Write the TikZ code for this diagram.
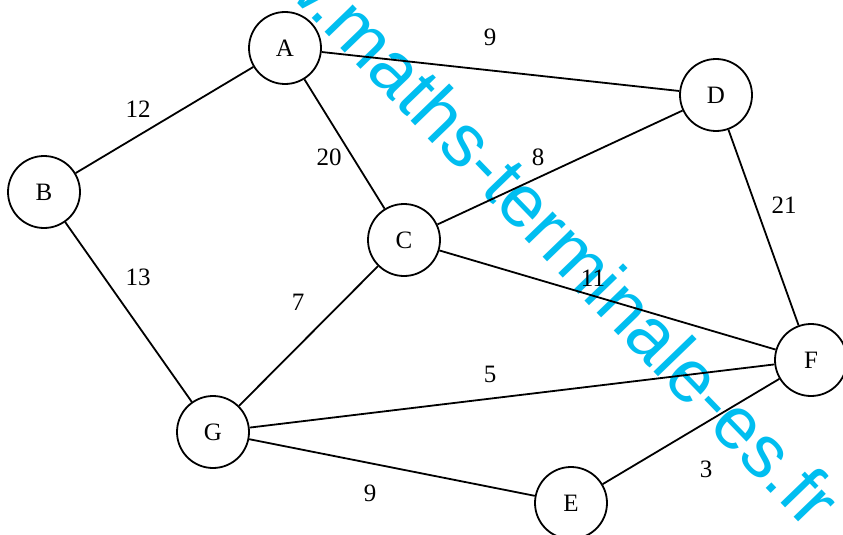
\documentclass[tikz,border=0pt]{standalone}
\usepackage{fontspec}
\setmainfont{Liberation Serif}
\newfontfamily\wmfont{Liberation Sans}
\definecolor{wmcyan}{RGB}{0,190,240}
\begin{document}
\begin{tikzpicture}[x=1pt,y=-1pt,
  vertex/.style={circle,draw=black,line width=1.8pt,fill=white,minimum size=72pt,inner sep=0pt,font=\fontsize{25}{25}\selectfont},
  edge/.style={draw=black,line width=1.8pt},
  weight/.style={inner sep=0pt,font=\fontsize{25}{25}\selectfont},
  watermark/.style={text=wmcyan,inner sep=0pt,anchor=base west,rotate=-46,font=\wmfont\fontsize{74}{74}\selectfont}]
\useasboundingbox (0,0) rectangle (843,535);
\clip (0,0) rectangle (843,535);
\fill[white] (0,0) rectangle (843,535);
\node[watermark] (wm) at (199,-99) {www.maths-terminale-es.fr};
% vertices
\node[vertex] (A) at (285,48) {A};
\node[vertex] (B) at (44,192) {B};
\node[vertex] (C) at (404,240) {C};
\node[vertex] (D) at (716,95) {D};
\node[vertex] (E) at (571,503) {E};
\node[vertex] (F) at (811,360) {F};
\node[vertex] (G) at (213,432) {G};
% edges
\draw[edge] (A) -- (B);
\draw[edge] (A) -- (C);
\draw[edge] (A) -- (D);
\draw[edge] (B) -- (G);
\draw[edge] (C) -- (D);
\draw[edge] (C) -- (F);
\draw[edge] (C) -- (G);
\draw[edge] (D) -- (F);
\draw[edge] (G) -- (F);
\draw[edge] (G) -- (E);
\draw[edge] (E) -- (F);
% weights
\node[weight] (wAB) at (138,109) {12};
\node[weight] (wAC) at (329,157) {20};
\node[weight] (wBG) at (138,277) {13};
\node[weight] (wAD) at (490,37) {9};
\node[weight] (wCD) at (538,157) {8};
\node[weight] (wDF) at (784,205) {21};
\node[weight] (wCF) at (593,278) {11};
\node[weight] (wCG) at (298,302) {7};
\node[weight] (wGF) at (490,374) {5};
\node[weight] (wGE) at (370,493) {9};
\node[weight] (wEF) at (706,469) {3};
\end{tikzpicture}
\end{document}
